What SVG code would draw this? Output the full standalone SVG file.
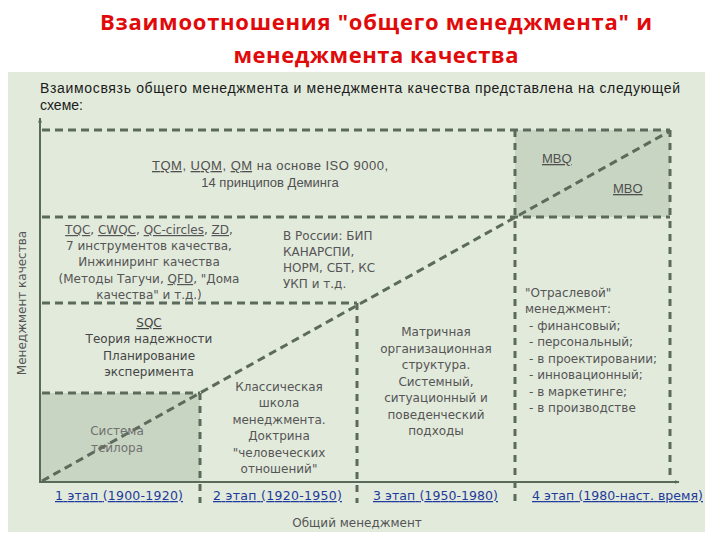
<svg xmlns="http://www.w3.org/2000/svg" width="720" height="540" viewBox="0 0 720 540">
  <defs>
    <marker id="arr" viewBox="0 0 10 10" refX="9" refY="5" markerWidth="5" markerHeight="5" orient="auto" markerUnits="userSpaceOnUse">
      <path d="M0,1 L10,5 L0,9 z" fill="#5a6a5a"/>
    </marker>
    <style>
      .title { font-family: "Open Sans", "DejaVu Sans", sans-serif; font-weight: bold; font-size: 22px; fill: #e00a0a; text-anchor: middle; }
      .intro { font-family: "Liberation Sans", Arial, sans-serif; font-size: 14px; fill: #1a1a1a; }
      .cell { font-family: "DejaVu Sans", Verdana, sans-serif; font-size: 12px; fill: #555; }
      .dark { fill: #454545; }
      .light { fill: #707070; }
      .narrow { font-family: "Liberation Sans", Arial, sans-serif; font-size: 13px; fill: #505050; }
      .mid { text-anchor: middle; }
      .u { text-decoration: underline; }
      .stage { font-family: "DejaVu Sans", Verdana, sans-serif; font-size: 12.5px; fill: #1f3a9a; text-decoration: underline; }
      .dash { stroke: #5b6a5b; stroke-width: 3; fill: none; stroke-dasharray: 8 5; }
      .vdash { stroke: #5b6a5b; stroke-width: 3; fill: none; stroke-dasharray: 7 6; }
      .axis { stroke: #5a6a5a; stroke-width: 2; fill: none; }
    </style>
  </defs>

  <rect width="720" height="540" fill="#ffffff"/>

  <g id="title">
    <text class="title" x="376" y="30" textLength="552">Взаимоотношения "общего менеджмента" и</text>
    <text class="title" x="376" y="63" textLength="285">менеджмента качества</text>
  </g>

  <rect id="panel" x="8" y="72" width="697" height="460" fill="#e2eadc"/>

  <g id="intro">
    <text class="intro" x="40" y="93" textLength="640">Взаимосвязь общего менеджмента и менеджмента качества представлена на следующей</text>
    <text class="intro" x="40" y="110">схеме:</text>
  </g>

  <!-- shaded boxes -->
  <rect x="515" y="130" width="155" height="87" fill="#c9d5c3"/>
  <rect x="40" y="393" width="160" height="89" fill="#c9d5c3"/>

  <g id="connectors">
    <line class="dash" x1="42" y1="130" x2="670" y2="130"/>
    <line class="dash" x1="42" y1="217" x2="670" y2="217"/>
    <line class="dash" x1="42" y1="303" x2="357" y2="303"/>
    <line class="dash" x1="42" y1="393" x2="200" y2="393"/>
    <line class="vdash" x1="670" y1="130" x2="670" y2="480"/>
    <line class="vdash" x1="515" y1="130" x2="515" y2="503"/>
    <line class="vdash" x1="357" y1="303" x2="357" y2="503"/>
    <line class="vdash" x1="200" y1="393" x2="200" y2="503"/>
    <line class="dash" x1="42" y1="481" x2="670" y2="131" stroke-dasharray="8 6"/>
    <line class="axis" x1="40" y1="483" x2="40" y2="118" marker-end="url(#arr)"/>
    <line class="axis" x1="39" y1="482" x2="679" y2="482" marker-end="url(#arr)"/>
  </g>

  <g id="axis-y-label">
    <text class="cell" font-size="13" transform="translate(26,303) rotate(-90)" text-anchor="middle">Менеджмент качества</text>
  </g>
  <g id="axis-x-label">
    <text class="cell mid" font-size="13" x="357" y="527">Общий менеджмент</text>
  </g>

  <g id="cell-tqm">
    <text class="narrow mid" x="270" y="170" textLength="236"><tspan class="u">TQM</tspan>, <tspan class="u">UQM</tspan>, <tspan class="u">QM</tspan> на основе ISO 9000,</text>
    <text class="narrow mid" x="270" y="187">14 принципов Деминга</text>
  </g>

  <g id="cell-mbq">
    <text class="narrow u" x="542" y="163">MBQ</text>
    <text class="narrow u" x="613" y="193">MBO</text>
  </g>

  <g id="cell-tqc">
    <text class="cell mid" x="149" y="234"><tspan class="u">TQC</tspan>, <tspan class="u">CWQC</tspan>, <tspan class="u">QC-circles</tspan>, <tspan class="u">ZD</tspan>,</text>
    <text class="cell mid" x="149" y="250">7 инструментов качества,</text>
    <text class="cell mid" x="149" y="266">Инжиниринг качества</text>
    <text class="cell mid" x="149" y="283">(Методы Тагучи, <tspan class="u">QFD</tspan>, "Дома</text>
    <text class="cell mid" x="149" y="299">качества" и т.д.)</text>
  </g>

  <g id="cell-russia">
    <text class="cell" font-size="13" x="283" y="240">В России: БИП</text>
    <text class="cell" font-size="13" x="283" y="256">КАНАРСПИ,</text>
    <text class="cell" font-size="13" x="283" y="272">НОРМ, СБТ, КС</text>
    <text class="cell" font-size="13" x="283" y="288">УКП и т.д.</text>
  </g>

  <g id="cell-sqc">
    <text class="cell dark mid" font-size="12.5" x="149" y="327"><tspan class="u">SQC</tspan></text>
    <text class="cell dark mid" font-size="12.5" x="149" y="343">Теория надежности</text>
    <text class="cell dark mid" font-size="12.5" x="149" y="360">Планирование</text>
    <text class="cell dark mid" font-size="12.5" x="149" y="376">эксперимента</text>
  </g>

  <g id="cell-taylor">
    <text class="cell light mid" font-size="12.5" x="117" y="435">Система</text>
    <text class="cell light mid" font-size="12.5" x="117" y="452">тейлора</text>
  </g>

  <g id="cell-classic">
    <text class="cell mid" font-size="12.5" x="279" y="391">Классическая</text>
    <text class="cell mid" font-size="12.5" x="279" y="407">школа</text>
    <text class="cell mid" font-size="12.5" x="279" y="424">менеджмента.</text>
    <text class="cell mid" font-size="12.5" x="279" y="440">Доктрина</text>
    <text class="cell mid" font-size="12.5" x="279" y="457">"человеческих</text>
    <text class="cell mid" font-size="12.5" x="279" y="473">отношений"</text>
  </g>

  <g id="cell-matrix">
    <text class="cell mid" x="436" y="336">Матричная</text>
    <text class="cell mid" x="436" y="353">организационная</text>
    <text class="cell mid" x="436" y="369">структура.</text>
    <text class="cell mid" x="436" y="386">Системный,</text>
    <text class="cell mid" x="436" y="402">ситуационный и</text>
    <text class="cell mid" x="436" y="419">поведенческий</text>
    <text class="cell mid" x="436" y="435">подходы</text>
  </g>

  <g id="cell-branch">
    <text class="cell" x="525" y="297">"Отраслевой"</text>
    <text class="cell" x="525" y="313">менеджмент:</text>
    <text class="cell" x="529" y="330">- финансовый;</text>
    <text class="cell" x="529" y="346">- персональный;</text>
    <text class="cell" x="529" y="363">- в проектировании;</text>
    <text class="cell" x="529" y="379">- инновационный;</text>
    <text class="cell" x="529" y="396">- в маркетинге;</text>
    <text class="cell" x="529" y="412">- в производстве</text>
  </g>

  <g id="stages">
    <text class="stage" x="55" y="500" textLength="128">1 этап (1900-1920)</text>
    <text class="stage" x="213" y="500" textLength="129">2 этап (1920-1950)</text>
    <text class="stage" x="373" y="500" textLength="125">3 этап (1950-1980)</text>
    <text class="stage" x="532" y="500" textLength="171">4 этап (1980-наст. время)</text>
  </g>
</svg>
